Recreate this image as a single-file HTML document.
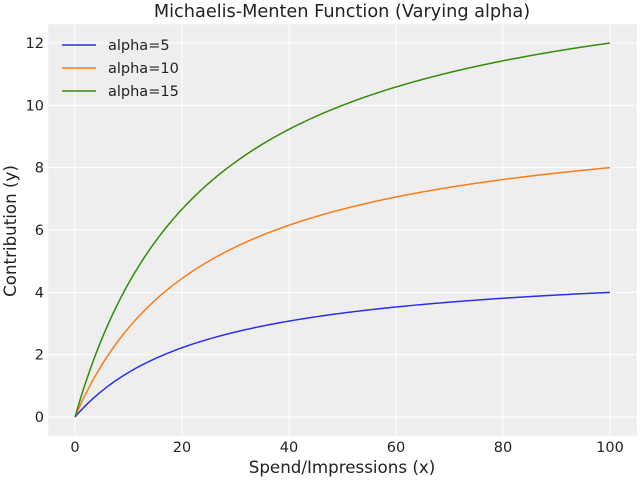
<!DOCTYPE html>
<html><head><meta charset="utf-8"><style>
html,body{margin:0;padding:0;background:#fff;}
svg{display:block;font-family:"DejaVu Sans","Liberation Sans",sans-serif;}
</style></head><body>
<svg id="s" width="640" height="480" viewBox="0 0 640 480" xmlns="http://www.w3.org/2000/svg">
<rect x="48.25" y="24.3" width="588.5" height="411.4" fill="#eeeeee"/>
<g id="grid" stroke="#ffffff" stroke-width="1"></g>
<g id="curves" fill="none" stroke-width="1.5"></g>
<g id="ticks" font-size="14.5" fill="#222"></g>
<text x="342" y="17" font-size="17.7" text-anchor="middle" fill="#222">Michaelis-Menten Function (Varying alpha)</text>
<text x="342" y="473" font-size="16.7" text-anchor="middle" fill="#222">Spend/Impressions (x)</text>
<text transform="translate(16,231) rotate(-90)" font-size="16.7" text-anchor="middle" fill="#222">Contribution (y)</text>
<g font-size="14.5" fill="#222">
<line x1="62" y1="45" x2="96" y2="45" stroke="#2a2eec" stroke-width="1.5"/><text x="108" y="50">alpha=5</text>
<line x1="62" y1="68" x2="96" y2="68" stroke="#fa7c17" stroke-width="1.5"/><text x="108" y="73">alpha=10</text>
<line x1="62" y1="91" x2="96" y2="91" stroke="#328c06" stroke-width="1.5"/><text x="108" y="96">alpha=15</text>
</g>
</svg>
<script>
var NS="http://www.w3.org/2000/svg";
function px(x){return 75+x*5.35;}
function py(y){return 417-y*31.1667;}
function el(t,a,p){var e=document.createElementNS(NS,t);for(var k in a)e.setAttribute(k,a[k]);p.appendChild(e);return e;}
var g=document.getElementById('grid'),tk=document.getElementById('ticks'),c=document.getElementById('curves');
for(var x=0;x<=100;x+=20){el('line',{x1:px(x),x2:px(x),y1:24.3,y2:435.7},g);var t=el('text',{x:px(x),y:452,'text-anchor':'middle'},tk);t.textContent=x;}
for(var y=0;y<=12;y+=2){el('line',{x1:48.25,x2:636.75,y1:py(y),y2:py(y)},g);var t=el('text',{x:44,y:py(y)+5,'text-anchor':'end'},tk);t.textContent=y;}
[[5,"#2a2eec"],[10,"#fa7c17"],[15,"#328c06"]].forEach(function(a){
 var d="";for(var i=0;i<=200;i++){var x=i/2;var y=a[0]*x/(25+x);d+=(i?"L":"M")+px(x).toFixed(2)+","+py(y).toFixed(2);}
 el('path',{d:d,stroke:a[1]},c);});
</script>
</body></html>
